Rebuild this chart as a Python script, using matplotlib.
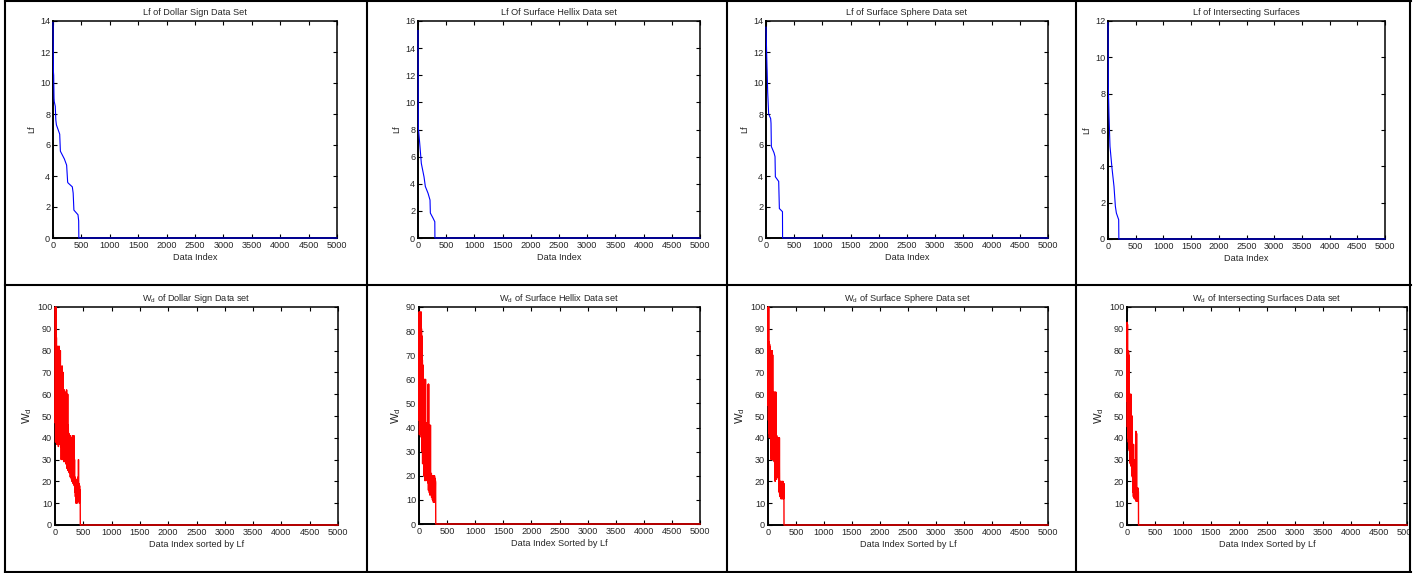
import numpy as np
import matplotlib
matplotlib.use("Agg")
import matplotlib.pyplot as plt
from matplotlib.lines import Line2D
from matplotlib.patches import Rectangle

plt.rcParams['font.family'] = ['Liberation Sans', 'DejaVu Sans']
plt.rcParams['mathtext.fontset'] = 'custom'
plt.rcParams['mathtext.rm'] = 'Liberation Sans'
plt.rcParams['mathtext.it'] = 'Liberation Sans'

# ---------------- data ----------------
x_max = 5000

# Lf curves (data index, Lf value) breakpoints, zero afterwards
dollar_lf_idx = [0, 8, 12, 18, 22, 40, 50, 60, 118, 130, 200, 240, 258, 266, 340, 355, 368, 440, 452, 455, 5000]
dollar_lf_val = [13.9, 10.7, 10.5, 9.0, 8.8, 8.5, 7.6, 7.3, 6.7, 5.6, 5.1, 4.7, 3.6, 3.55, 3.3, 2.9, 1.8, 1.5, 1.1, 0, 0]

hellix_lf_idx = [0, 5, 30, 59, 107, 130, 178, 213, 219, 266, 298, 300, 5000]
hellix_lf_val = [15.3, 8.2, 7.0, 5.5, 4.5, 3.8, 3.3, 2.8, 1.84, 1.47, 1.2, 0, 0]

sphere_lf_idx = [0, 18, 20, 30, 47, 83, 89, 95, 142, 160, 166, 225, 237, 292, 294, 5000]
sphere_lf_val = [13.6, 11.0, 10.8, 9.4, 8.0, 7.7, 7.4, 5.9, 5.5, 5.25, 3.95, 3.65, 1.9, 1.7, 0, 0]

inter_lf_idx = [0, 6, 18, 36, 72, 108, 133, 151, 193, 196, 5000]
inter_lf_val = [11.9, 8.4, 6.8, 5.1, 3.9, 2.9, 1.8, 1.43, 1.06, 0, 0]

# Wd series (sampled every `step` data indices, zero afterwards)
dollar_wd_step = 5
dollar_wd = [47, 100, 38, 100, 45,
             86, 37, 82, 40, 80,
             38, 82, 36, 75, 42, 82, 37, 68, 45, 80, 36,
             68, 30, 66, 34, 73, 30, 58, 33, 70,
             31, 60, 29, 62, 35, 58, 30, 61, 28, 55, 32, 62, 26, 50, 30, 60, 25, 46, 28, 42,
             24, 41, 27, 38, 22, 41, 25, 36, 21, 40, 20, 38, 24, 41, 19, 35, 22, 41, 18, 30, 15,
             22, 13, 20, 10, 21, 12, 19, 10, 18, 14, 22, 11, 30, 12, 19, 10, 18, 12, 16]

hellix_wd_step = 4
hellix_wd = [43, 88, 37, 88, 40, 87, 38, 85, 45, 88,
             36, 81, 40, 78, 30, 68, 25, 66, 28, 61,
             25, 60, 20, 59, 24, 60, 18, 55, 22, 60,
             18, 42, 19, 40, 21, 38, 18, 42, 20, 40,
             17, 58, 14, 58, 18, 35, 13, 41, 12, 40,
             14, 41, 13, 20, 12, 21, 11, 20, 12, 20,
             10, 20, 11, 19, 9, 20, 10, 19, 9, 20,
             10, 19, 9, 18, 17]

sphere_wd_step = 4
sphere_wd = [55, 100, 48, 100, 42, 84, 40, 83, 41, 82,
             40, 80, 38, 80, 30, 80, 32, 79, 30, 80,
             31, 78, 30, 61, 32, 60, 30, 61, 29, 60,
             22, 61, 20, 60, 21, 61, 22, 40, 21, 41,
             23, 40, 22, 40, 24, 39, 22, 40, 23, 40,
             15, 40, 14, 20, 13, 20, 14, 20, 12, 19,
             13, 20, 12, 19, 13, 20, 12, 20, 13, 19,
             12, 19]

inter_wd_step = 3
inter_wd = [57, 93, 45, 92, 42, 80, 40, 79, 38, 80,
            36, 78, 35, 75, 34, 60, 29, 59, 30, 60,
            28, 58, 29, 60, 27, 59, 28, 50, 23, 48,
            24, 50, 22, 37, 23, 36, 15, 35, 13, 37,
            13, 30, 14, 27, 12, 28, 13, 23, 12, 22,
            13, 20, 11, 43, 12, 19, 11, 42, 12, 17,
            11, 16, 12, 15, 11, 17, 13, 16, 15]

x_ticks = list(range(0, 5001, 500))

top_titles = ["Lf of Dollar Sign Data Set", "Lf Of Surface Hellix Data set",
              "Lf of Surface Sphere Data set", "Lf of Intersecting Surfaces"]
bot_titles = [r"W$_{\mathregular{d}}$ of Dollar Sign Data set",
              r"W$_{\mathregular{d}}$ of Surface Hellix Data set",
              r"W$_{\mathregular{d}}$ of Surface Sphere Data set",
              r"W$_{\mathregular{d}}$ of Intersecting Surfaces Data set"]
bot_xlabels = ["Data Index sorted by Lf", "Data Index Sorted by Lf",
               "Data Index Sorted by Lf", "Data Index Sorted by Lf"]
top_ylims = [14, 16, 14, 12]
top_ysteps = [2, 2, 2, 2]
bot_ylims = [100, 90, 100, 100]

# ---------------- figure ----------------
W, H = 1424, 573
fig = plt.figure(figsize=(W / 100, H / 100), dpi=100)

def add_ax(l, t, r, b):
    return fig.add_axes([l / W, 1 - b / H, (r - l) / W, (b - t) / H])

top_boxes = [(53, 21, 337, 238), (418, 21, 700, 238), (766, 21, 1048, 238), (1108, 21, 1385, 239)]
bot_boxes = [(55, 307, 338, 525), (419, 307, 700, 524), (768, 307, 1048, 525), (1127, 307, 1407, 525)]

FS = 6.6
TXT = '#262626'

def style(ax, ymax, ystep):
    ax.set_xlim(0, x_max)
    ax.set_ylim(0, ymax)
    ax.set_xticks(x_ticks)
    ax.set_yticks(np.arange(0, ymax + 0.1, ystep))
    ax.tick_params(direction='in', length=3, width=0.8, top=True, right=True,
                   labelsize=FS, labelcolor=TXT, pad=2)
    for s in ['left', 'bottom']:
        ax.spines[s].set_linewidth(1.4)
    for s in ['top', 'right']:
        ax.spines[s].set_linewidth(1.1)

lf_sets = [(dollar_lf_idx, dollar_lf_val), (hellix_lf_idx, hellix_lf_val),
           (sphere_lf_idx, sphere_lf_val), (inter_lf_idx, inter_lf_val)]
wd_sets = [(dollar_wd, dollar_wd_step), (hellix_wd, hellix_wd_step),
           (sphere_wd, sphere_wd_step), (inter_wd, inter_wd_step)]

for i in range(4):
    ax = add_ax(*top_boxes[i])
    xi, yi = lf_sets[i]
    ax.plot(xi, yi, color='#0000ff', lw=0.8, clip_on=False, zorder=5)
    style(ax, top_ylims[i], top_ysteps[i])
    ax.set_title(top_titles[i], fontsize=FS, color=TXT, pad=4)
    ax.set_xlabel("Data Index", fontsize=FS, color=TXT, labelpad=2)
    ax.set_ylabel("Lf", fontsize=FS, color=TXT, labelpad=3)

    ax = add_ax(*bot_boxes[i])
    vals, step = wd_sets[i]
    xs = np.arange(len(vals)) * step
    xs = np.append(xs, [xs[-1] + 2, x_max])
    ys = np.append(np.array(vals, dtype=float), [0, 0])
    ax.plot(xs, ys, color='#ff0000', lw=1.0, clip_on=False, zorder=5)
    style(ax, bot_ylims[i], 10)
    ax.set_title(bot_titles[i], fontsize=FS, color=TXT, pad=4)
    ax.set_xlabel(bot_xlabels[i], fontsize=FS, color=TXT, labelpad=2)
    ax.set_ylabel(r"W$_{\mathregular{d}}$", fontsize=FS + 1.5, color=TXT, labelpad=2)

# cover beyond the table on the right
fig.patches.append(Rectangle((1411 / W, 0), (W - 1411) / W, 1, transform=fig.transFigure,
                             facecolor='white', edgecolor='none', zorder=20))

# table borders
def hline(y, x0, x1):
    fig.add_artist(Line2D([x0 / W, x1 / W], [1 - y / H, 1 - y / H], color='black', lw=1.5, zorder=30))

def vline(x, y0, y1):
    fig.add_artist(Line2D([x / W, x / W], [1 - y0 / H, 1 - y1 / H], color='black', lw=1.5, zorder=30))

hline(0.7, 4.5, 1410.5)
hline(285, 4.5, 1410.5)
hline(571.5, 4.5, 1410.5)
for xv in [5, 366.5, 726.5, 1075.5, 1410]:
    vline(xv, 0, 572)

fig.savefig("out.png", dpi=100)
